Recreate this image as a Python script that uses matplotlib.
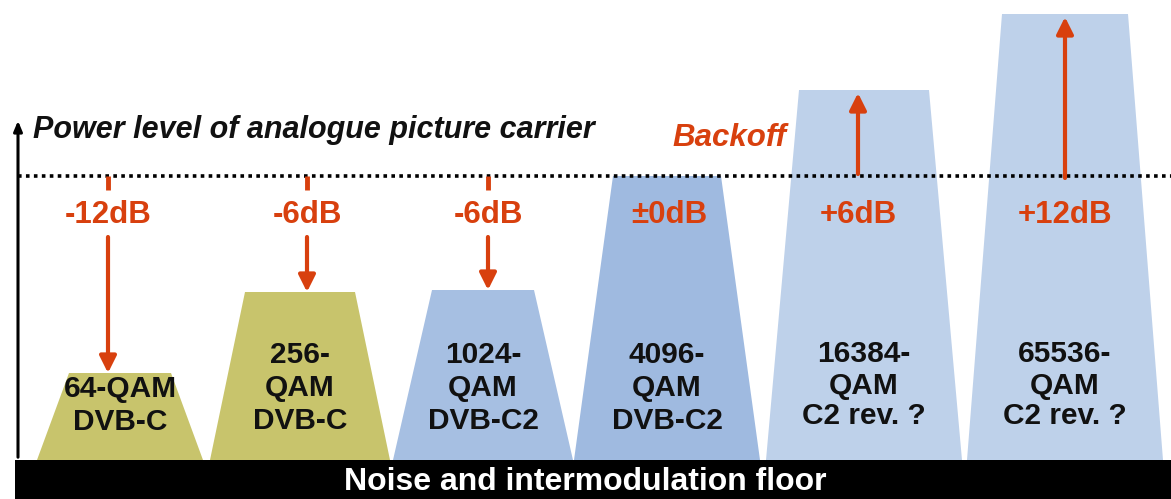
import matplotlib
matplotlib.use("Agg")
import matplotlib.pyplot as plt
from matplotlib.patches import Polygon, Rectangle

# ---- data ----
modulations = ["64-QAM\nDVB-C", "256-\nQAM\nDVB-C", "1024-\nQAM\nDVB-C2",
               "4096-\nQAM\nDVB-C2", "16384-\nQAM\nC2 rev. ?", "65536-\nQAM\nC2 rev. ?"]
backoff_labels = ["-12dB", "-6dB", "-6dB", "\u00b10dB", "+6dB", "+12dB"]
# schematic signal level above the noise floor (arbitrary units)
levels = [87, 168, 170, 284, 370, 446]
reference_level = 284  # analogue picture carrier level

# ---- layout / style ----
centers = [120, 300, 483, 667, 864, 1065]
bottom_half = [83, 90, 90, 93, 98, 98]
top_half = [51, 55, 51, 54, 65, 63]
arrow_x = [108, 307, 488, 669, 858, 1065]
colors = ["#c8c46c", "#c8c46c", "#a6bfe2", "#9fbae0", "#bed1ea", "#bed1ea"]
label_y = [[389, 422], [355, 388, 421], [355, 388, 421], [355, 388, 421],
           [354, 386, 416], [354, 386, 416]]
orange = "#d8400e"
floor_h = 39
FONT = ["Liberation Sans", "DejaVu Sans"]

W, H = 1171, 499
fig = plt.figure(figsize=(W / 100, H / 100), dpi=100)
ax = fig.add_axes([0, 0, 1, 1])
ax.set_xlim(0, W)
ax.set_ylim(0, H)
ax.axis("off")

def py(p):  # pixel-row to data y
    return H - p

ref_y = floor_h + reference_level

# trapezoids
for c, bh, th, lev, col in zip(centers, bottom_half, top_half, levels, colors):
    top = floor_h + lev
    ax.add_patch(Polygon([(c - bh, floor_h), (c + bh, floor_h), (c + th, top), (c - th, top)],
                         closed=True, facecolor=col, edgecolor="none", zorder=1))

# labels in trapezoids
for c, txt, ys in zip(centers, modulations, label_y):
    for line, yy in zip(txt.split("\n"), ys):
        ax.text(c, py(yy), line, ha="center", va="center", fontsize=21.5,
                fontweight="bold", color="#111111", family=FONT, zorder=4)

# floor
ax.add_patch(Rectangle((15, 0), W - 15, floor_h, facecolor="black", edgecolor="none", zorder=3))
ax.text(585, py(482), "Noise and intermodulation floor", ha="center", va="center",
        fontsize=23, fontweight="bold", color="white", family=FONT, zorder=4)

# y axis arrow
ax.annotate("", xy=(18, py(118)), xytext=(18, floor_h),
            arrowprops=dict(arrowstyle="-|>,head_length=0.6,head_width=0.25", color="black", lw=2.2),
            zorder=5)
ax.text(33, py(130), "Power level of analogue picture carrier", ha="left", va="center",
        fontsize=22, style="italic", fontweight="bold", color="#111111",
        family=FONT, zorder=4)

# reference dotted line
ax.plot([18, W], [ref_y, ref_y], linestyle=(0, (1, 1.2)), color="black", lw=2.6, zorder=2)

ax.text(672, py(138), "Backoff", ha="left", va="center", fontsize=22.5, style="italic",
        fontweight="bold", color=orange, family=FONT, zorder=4)

# backoff labels and arrows
for x, lab, lev in zip(arrow_x, backoff_labels, levels):
    ax.text(x, py(215), lab, ha="center", va="center", fontsize=22.5, fontweight="bold",
            color=orange, family=FONT, zorder=4)
    top = floor_h + lev
    if lev < reference_level:
        ax.plot([x, x], [ref_y, py(190)], color=orange, lw=3.5, solid_capstyle="butt", zorder=4)
        ax.annotate("", xy=(x, top), xytext=(x, py(237)),
                    arrowprops=dict(arrowstyle="-|>,head_length=1.0,head_width=0.5",
                                    color=orange, lw=3.0, shrinkA=0, shrinkB=0), zorder=4)
    elif lev > reference_level:
        ax.annotate("", xy=(x, top - 3), xytext=(x, ref_y + (2 if lev < 400 else -2)),
                    arrowprops=dict(arrowstyle="-|>,head_length=1.0,head_width=0.5",
                                    color=orange, lw=3.0, shrinkA=0, shrinkB=0), zorder=4)

fig.savefig("out.png", dpi=100)
